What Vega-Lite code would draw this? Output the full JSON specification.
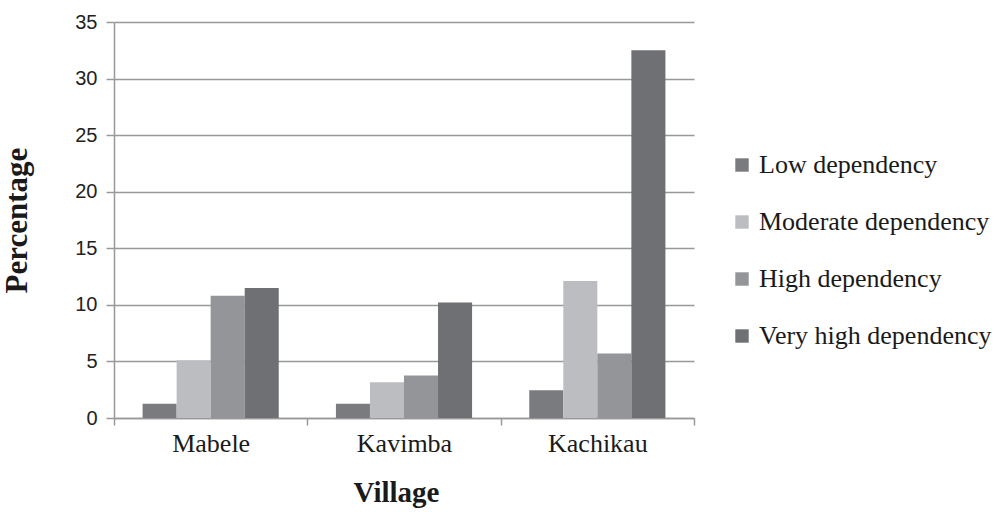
{
  "$schema": "https://vega.github.io/schema/vega-lite/v6.json",
  "autosize": "none",
  "width": 580,
  "height": 396,
  "padding": {"left": 114, "top": 22, "right": 310, "bottom": 94},
  "background": "white",
  "data": {
    "values": [
      {"village": "Mabele", "level": "Low dependency", "value": 1.25},
      {"village": "Mabele", "level": "Moderate dependency", "value": 5.1},
      {"village": "Mabele", "level": "High dependency", "value": 10.8},
      {"village": "Mabele", "level": "Very high dependency", "value": 11.5},
      {"village": "Kavimba", "level": "Low dependency", "value": 1.25},
      {"village": "Kavimba", "level": "Moderate dependency", "value": 3.15},
      {"village": "Kavimba", "level": "High dependency", "value": 3.75},
      {"village": "Kavimba", "level": "Very high dependency", "value": 10.2},
      {"village": "Kachikau", "level": "Low dependency", "value": 2.45},
      {"village": "Kachikau", "level": "Moderate dependency", "value": 12.1},
      {"village": "Kachikau", "level": "High dependency", "value": 5.7},
      {"village": "Kachikau", "level": "Very high dependency", "value": 32.5}
    ]
  },
  "mark": {"type": "bar"},
  "encoding": {
    "x": {
      "field": "village",
      "type": "nominal",
      "sort": ["Mabele", "Kavimba", "Kachikau"],
      "scale": {"paddingInner": 0, "paddingOuter": 0},
      "axis": {
        "title": "Village",
        "titleFont": "Liberation Serif",
        "titleFontSize": 29,
        "titleFontWeight": "bold",
        "titleColor": "#1a1a1a",
        "titlePadding": 22,
        "titleX": 282,
        "labelFont": "Liberation Serif",
        "labelFontSize": 26,
        "labelColor": "#1a1a1a",
        "labelAngle": 0,
        "labelPadding": 5,
        "tickBand": "extent",
        "tickSize": 7,
        "tickColor": "#999999",
        "tickWidth": 1.5,
        "domainColor": "#999999",
        "domainWidth": 1.5,
        "grid": false
      }
    },
    "xOffset": {
      "field": "level",
      "type": "nominal",
      "sort": ["Low dependency", "Moderate dependency", "High dependency", "Very high dependency"],
      "scale": {"paddingInner": 0, "paddingOuter": 0.84}
    },
    "y": {
      "field": "value",
      "type": "quantitative",
      "scale": {"domain": [0, 35], "nice": false},
      "axis": {
        "title": "Percentage",
        "titleFont": "Liberation Serif",
        "titleFontSize": 31,
        "titleFontWeight": "bold",
        "titleColor": "#1a1a1a",
        "titlePadding": 41,
        "labelFont": "Liberation Sans",
        "labelFontSize": 20,
        "labelColor": "#222222",
        "labelPadding": 9,
        "values": [0, 5, 10, 15, 20, 25, 30, 35],
        "tickSize": 8,
        "tickColor": "#999999",
        "tickWidth": 1.5,
        "domainColor": "#999999",
        "domainWidth": 1.5,
        "grid": true,
        "gridColor": "#999999",
        "gridWidth": 1.5
      }
    },
    "color": {
      "field": "level",
      "type": "nominal",
      "sort": ["Low dependency", "Moderate dependency", "High dependency", "Very high dependency"],
      "scale": {
        "domain": ["Low dependency", "Moderate dependency", "High dependency", "Very high dependency"],
        "range": ["#7a7b7f", "#bcbdc0", "#949598", "#6f7074"]
      },
      "legend": {
        "title": null,
        "orient": "none",
        "legendX": 615,
        "legendY": 130,
        "symbolType": "square",
        "symbolSize": 180,
        "symbolStrokeWidth": 0,
        "labelFont": "Liberation Serif",
        "labelFontSize": 26,
        "labelColor": "#1a1a1a",
        "labelOffset": 4,
        "rowPadding": 31,
        "labelLimit": 400
      }
    }
  },
  "config": {"view": {"stroke": null}}
}
